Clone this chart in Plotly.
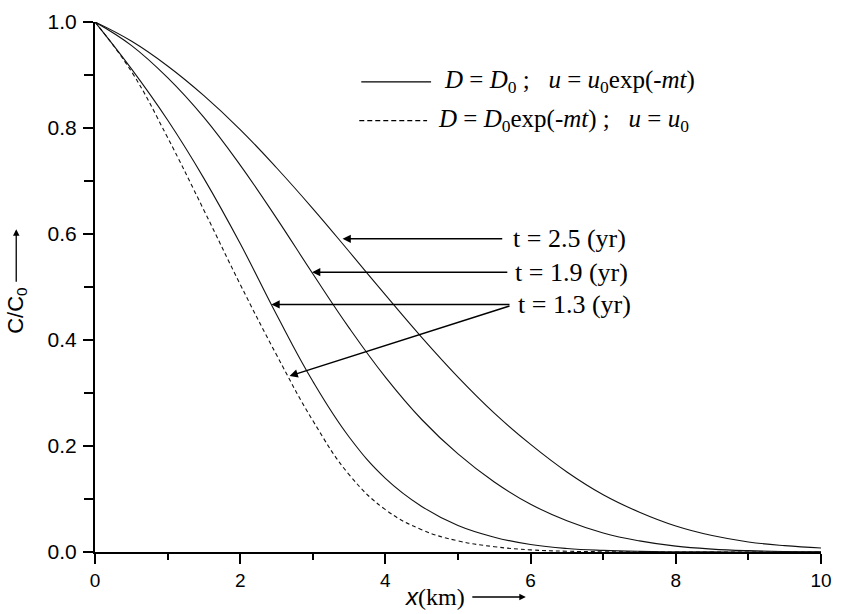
import plotly.graph_objects as go

# ---- data ----
x_km = [0.0, 0.5, 1.0, 1.5, 2.0, 2.5, 3.0, 3.5, 4.0, 4.5, 5.0,
        5.5, 6.0, 6.5, 7.0, 7.5, 8.0, 8.5, 9.0, 9.5, 10.0]
c_t25 = [1.0, 0.964, 0.917, 0.861, 0.797, 0.725, 0.648, 0.567, 0.485, 0.405, 0.33,
         0.262, 0.203, 0.151, 0.108, 0.075, 0.049, 0.031, 0.019, 0.012, 0.0075]
c_t19 = [1.0, 0.956, 0.895, 0.82, 0.73, 0.63, 0.525, 0.423, 0.33, 0.25, 0.185,
         0.132, 0.09, 0.059, 0.036, 0.021, 0.011, 0.0055, 0.0025, 0.001, 0.0004]
c_t13 = [1.0, 0.912, 0.815, 0.705, 0.582, 0.448, 0.322, 0.217, 0.139, 0.086, 0.05,
         0.028, 0.014, 0.0065, 0.003, 0.0012, 0.0005, 0.0002, 0.0001, 0.0, 0.0]
c_dash = [1.0, 0.907, 0.782, 0.645, 0.505, 0.372, 0.248, 0.146, 0.08, 0.042, 0.021,
          0.01, 0.004, 0.0015, 0.0005, 0.0001, 0.0, 0.0, 0.0, 0.0, 0.0]

x_ticks = [0, 2, 4, 6, 8, 10]
y_ticks = [0.0, 0.2, 0.4, 0.6, 0.8, 1.0]

legend_solid = "<i>D</i> = <i>D</i><sub>0</sub> ;\u2002 <i>u</i> = <i>u</i><sub>0</sub>exp(-<i>mt</i>)"
legend_dash = "<i>D</i> = <i>D</i><sub>0</sub>exp(-<i>mt</i>) ;\u2002 <i>u</i> = <i>u</i><sub>0</sub>"
t_labels = ["t = 2.5 (yr)", "t = 1.9 (yr)", "t = 1.3 (yr)"]
# label anchor (x, y) and arrows (tail x, tail y, tip x, tip y) in data units
t_label_pos = [(5.73, 0.591), (5.755, 0.528), (5.80, 0.467)]
t_arrows = [(5.63, 0.591, 3.41, 0.591),
            (5.70, 0.528, 2.99, 0.528),
            (5.73, 0.467, 2.43, 0.467),
            (5.73, 0.465, 2.68, 0.332)]

SERIF = "Liberation Serif"
SANS = "Liberation Sans"

fig = go.Figure()
for ys in (c_t25, c_t19, c_t13):
    fig.add_trace(go.Scatter(x=x_km, y=ys, mode="lines",
                             line=dict(color="#111", width=1.1, shape="spline", smoothing=1.2),
                             showlegend=False, hoverinfo="skip"))
fig.add_trace(go.Scatter(x=x_km, y=c_dash, mode="lines",
                         line=dict(color="#111", width=1.1, dash="4px,3px", shape="spline", smoothing=1.2),
                         showlegend=False, hoverinfo="skip"))

annotations = []
for (lx, ly), txt in zip(t_label_pos, t_labels):
    annotations.append(dict(x=lx, y=ly, xref="x", yref="y", text=txt, showarrow=False,
                            xanchor="left", yanchor="middle",
                            font=dict(family=SERIF, size=26, color="#000")))
for tx, ty, hx, hy in t_arrows:
    annotations.append(dict(x=hx, y=hy, ax=tx, ay=ty, xref="x", yref="y", axref="x", ayref="y",
                            text="", showarrow=True, arrowhead=2, arrowsize=1.1, arrowwidth=1.5,
                            arrowcolor="#000", standoff=0))

# legend texts
annotations.append(dict(x=4.78, y=0.887, xref="x", yref="y", text=legend_solid, showarrow=False,
                        xanchor="left", yanchor="middle", font=dict(family=SERIF, size=25, color="#000")))
annotations.append(dict(x=4.70, y=0.814, xref="x", yref="y", text=legend_dash, showarrow=False,
                        xanchor="left", yanchor="middle", font=dict(family=SERIF, size=25, color="#000")))

# axis titles
annotations.append(dict(x=-0.107, y=(552 - 305) / 542, xref="paper", yref="paper",
                        text="C/C<sub>0</sub>", textangle=-90, showarrow=False,
                        xanchor="center", yanchor="middle", font=dict(family=SANS, size=22, color="#000")))
annotations.append(dict(x=-0.1085, y=(552 - 222) / 542, xref="paper", yref="paper", ax=0, ay=54,
                        text="", showarrow=True, arrowhead=2, arrowsize=1, arrowwidth=1.3,
                        arrowcolor="#000", standoff=0))
annotations.append(dict(x=(468 - 95) / 728, y=(552 - 597) / 542, xref="paper", yref="paper",
                        text="<span style='font-family:Liberation Sans'><i>x</i></span>(km)",
                        showarrow=False, xanchor="right", yanchor="middle",
                        font=dict(family=SERIF, size=24, color="#000")))
annotations.append(dict(x=(527 - 95) / 728, y=(552 - 598) / 542, xref="paper", yref="paper", ax=-55, ay=0,
                        text="", showarrow=True, arrowhead=2, arrowsize=1, arrowwidth=1.3,
                        arrowcolor="#000", standoff=0))

shapes = [
    dict(type="line", xref="x", yref="y", x0=(362 - 95) / 72.8, x1=(432 - 95) / 72.8, y0=0.887, y1=0.887,
         line=dict(color="#000", width=1.3)),
    dict(type="line", xref="x", yref="y", x0=(360 - 95) / 72.8, x1=(428 - 95) / 72.8, y0=0.814, y1=0.814,
         line=dict(color="#000", width=1.3, dash="5px,3px")),
]

fig.update_layout(
    width=842, height=614,
    margin=dict(l=95, r=19, t=10, b=62),
    paper_bgcolor="white", plot_bgcolor="white",
    annotations=annotations, shapes=shapes,
    xaxis=dict(range=[0, 10], tickvals=x_ticks, ticks="outside", ticklen=10, tickwidth=2,
               tickcolor="#000", showline=True, linewidth=2, linecolor="#000",
               showgrid=False, zeroline=False, tickfont=dict(family=SANS, size=19, color="#000"),
               ticklabeloverflow="allow",
               minor=dict(dtick=1, ticks="outside", ticklen=6, tickwidth=2, tickcolor="#000", showgrid=False)),
    yaxis=dict(range=[0, 1], tickvals=y_ticks, tickformat=".1f", ticks="outside", ticklen=10, tickwidth=2,
               tickcolor="#000", showline=True, linewidth=2, linecolor="#000",
               showgrid=False, zeroline=False, tickfont=dict(family=SANS, size=21, color="#000"),
               ticklabelstandoff=2, ticklabeloverflow="allow",
               minor=dict(dtick=0.1, ticks="outside", ticklen=9, tickwidth=2, tickcolor="#000", showgrid=False)),
)

fig.write_html("out.html", config={"displayModeBar": False},
               post_script="document.body.style.margin='0';document.body.style.overflow='hidden';")
